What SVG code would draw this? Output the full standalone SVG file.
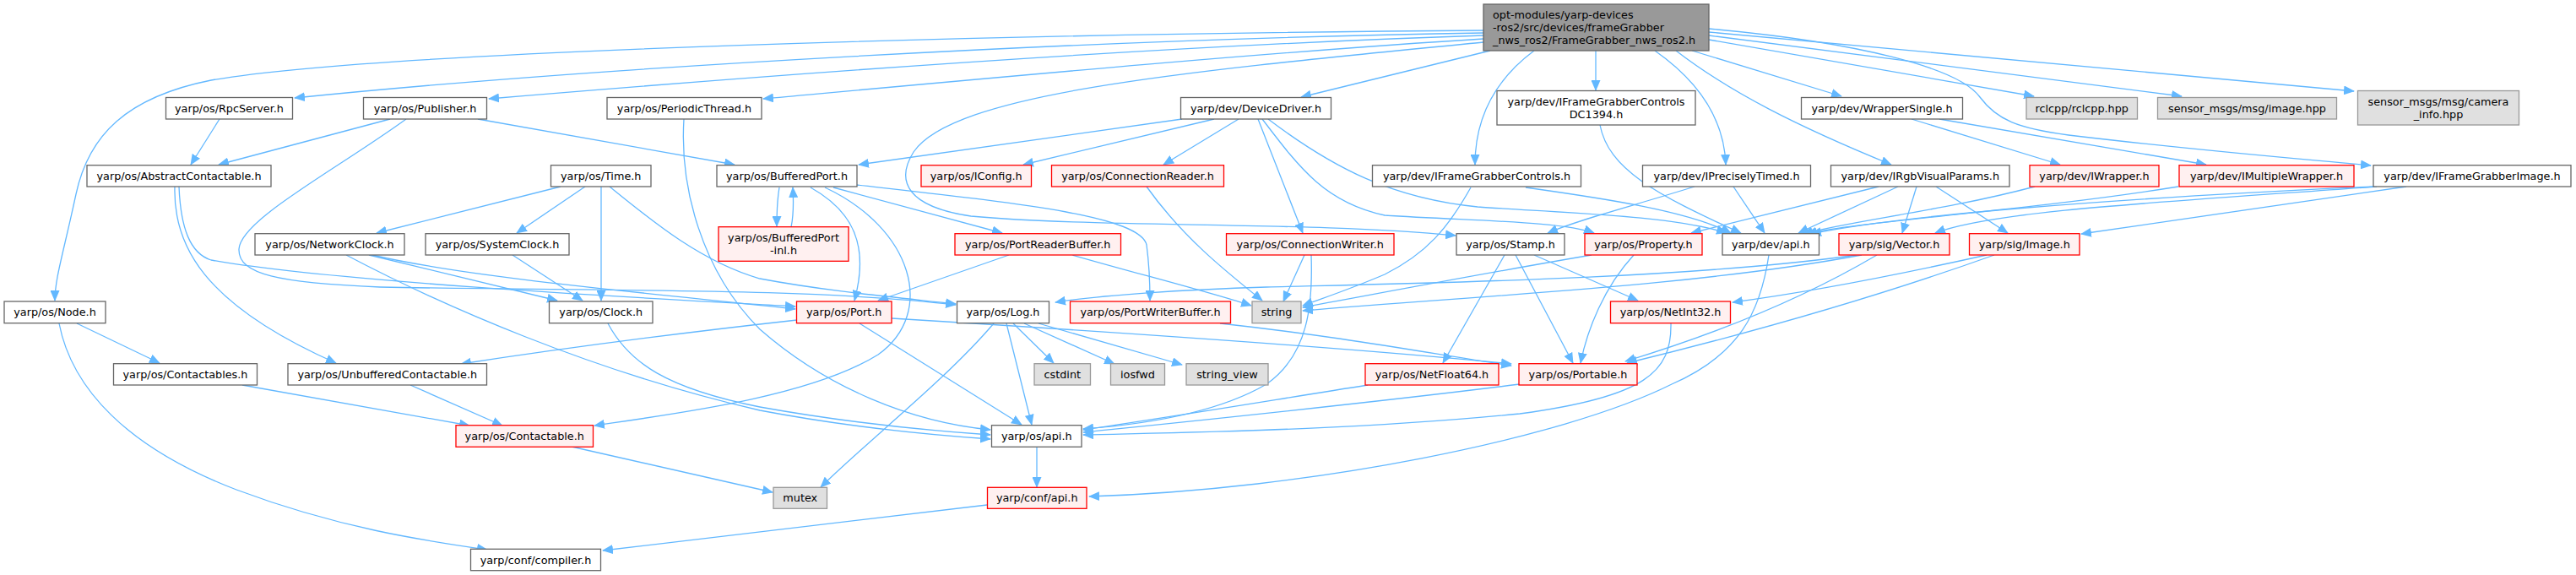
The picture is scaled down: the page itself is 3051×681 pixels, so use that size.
<svg xmlns="http://www.w3.org/2000/svg" width="3051" height="681" viewBox="0 0 3051 681">
<style>
text{font-family:"DejaVu Sans","Liberation Sans",sans-serif;font-size:12.8px;fill:#000;text-anchor:middle}
.n rect{fill:#fff;stroke:#666;stroke-width:1.3}
.r rect{fill:#FFF0F0;stroke:#f00;stroke-width:1.3}
.g rect{fill:#E0E0E0;stroke:#999;stroke-width:1.3}
.m rect{fill:#999;stroke:#666;stroke-width:1.3}
.m text{text-anchor:start}
#edges path{fill:none;stroke:#63B8FF;stroke-width:1.3;marker-end:url(#a)}
</style>
<defs>
<marker id="a" markerWidth="13" markerHeight="11" refX="12" refY="5.5" orient="auto" markerUnits="userSpaceOnUse"><path d="M0,0 L13,5.5 L0,11 z" fill="#63B8FF" stroke="none"/></marker>
</defs>
<rect width="3051" height="681" fill="#fff"/>
<g id="edges">
<path d="M1757,36 C1200,40 450,60 250,95 C150,115 105,160 90,230 C75,300 65,330 65,356"/>
<path d="M1757,39 C1300,46 700,80 349,116"/>
<path d="M1757,42 C1350,55 900,90 579,117"/>
<path d="M1757,46 C1500,62 1200,90 904,117"/>
<path d="M1757,50 C1400,85 1130,110 1082,180 C1060,215 1075,245 1150,256 C1300,270 1550,262 1724,279"/>
<path d="M1765,60 L1541,115"/>
<path d="M1817,60 C1770,95 1747,140 1747,195"/>
<path d="M1890,60 L1890,107"/>
<path d="M1960,60 C2010,95 2042,140 2044,195"/>
<path d="M1985,60 C2050,110 2130,150 2240,195"/>
<path d="M2004,60 L2181,114"/>
<path d="M2024,47 L2409,114"/>
<path d="M2024,42 L2584,114"/>
<path d="M2024,38 L2788,108"/>
<path d="M2024,34 C2200,50 2320,80 2345,115 C2365,142 2390,152 2450,160 C2600,178 2700,186 2808,196"/>
<path d="M260,141 L226,195"/>
<path d="M462,141 L259,195"/>
<path d="M566,141 L870,195"/>
<path d="M481,141 C400,200 285,260 283,295 C282,325 330,335 450,340 C700,345 950,340 1132,361"/>
<path d="M810,141 C805,220 830,320 900,390 C980,460 1080,500 1173,509"/>
<path d="M664,221 L446,276"/>
<path d="M693,221 L612,276"/>
<path d="M712,221 L712,356"/>
<path d="M722,221 C770,260 830,310 900,330 C980,345 1060,352 1132,360"/>
<path d="M207,221 C205,290 240,360 398,430"/>
<path d="M212,221 C214,270 225,300 250,308 C400,335 800,355 942,363"/>
<path d="M923,222 C920,240 920,255 920,268"/>
<path d="M937,269 C940,255 940,240 939,222"/>
<path d="M960,222 C1010,250 1030,290 1012,356"/>
<path d="M977,222 C1080,270 1110,370 1040,420 C960,470 800,490 704,504"/>
<path d="M987,222 L1187,276"/>
<path d="M1015,219 C1200,240 1350,255 1358,290 C1362,320 1362,340 1362,356"/>
<path d="M1400,141 L1017,195"/>
<path d="M1438,141 L1212,195"/>
<path d="M1467,141 L1378,195"/>
<path d="M1490,141 L1543,276"/>
<path d="M1495,141 C1540,200 1570,240 1640,255 C1750,262 1850,262 1888,276"/>
<path d="M1502,141 C1580,200 1650,235 1750,245 C1850,252 1980,255 2045,276"/>
<path d="M1742,222 C1715,270 1690,300 1640,325 C1600,342 1570,352 1543,362"/>
<path d="M1807,222 C1900,235 2000,250 2050,276"/>
<path d="M1895,148 C1905,200 1960,230 2062,276"/>
<path d="M2007,221 C1930,245 1870,260 1833,276"/>
<path d="M2053,221 L2090,276"/>
<path d="M2225,221 L2003,276"/>
<path d="M2248,221 L2130,276"/>
<path d="M2270,221 L2253,276"/>
<path d="M2293,221 L2378,276"/>
<path d="M2410,221 C2300,250 2200,260 2135,277"/>
<path d="M2580,221 C2400,250 2200,262 2140,277"/>
<path d="M2811,221 C2500,235 2250,255 2145,277"/>
<path d="M2815,221 C2550,240 2360,250 2292,276"/>
<path d="M2850,221 L2465,277"/>
<path d="M2264,141 L2440,195"/>
<path d="M2297,141 L2613,195"/>
<path d="M1782,302 L1709,430"/>
<path d="M1795,302 L1863,430"/>
<path d="M1817,302 L1940,356"/>
<path d="M1885,302 C1750,325 1620,350 1543,364"/>
<path d="M1935,302 C1900,340 1880,390 1872,430"/>
<path d="M2199,302 C2000,330 1700,335 1500,340 C1400,343 1300,350 1250,358"/>
<path d="M2205,302 C2000,340 1750,350 1543,368"/>
<path d="M2223,302 C2150,345 2050,390 1925,428"/>
<path d="M2353,302 C2250,325 2150,345 2052,358"/>
<path d="M2362,302 C2200,360 2050,400 1927,430"/>
<path d="M1979,383 C1980,440 1950,470 1800,490 C1600,510 1400,512 1283,515"/>
<path d="M1620,456 C1500,475 1380,495 1283,509"/>
<path d="M1800,455 C1600,480 1400,500 1283,512"/>
<path d="M1553,302 C1555,360 1550,420 1500,455 C1440,490 1350,503 1283,508"/>
<path d="M1545,302 L1520,357"/>
<path d="M1358,221 C1400,280 1450,320 1495,356"/>
<path d="M1270,302 C1350,325 1430,345 1482,362"/>
<path d="M1195,302 L1040,356"/>
<path d="M1445,383 C1600,400 1700,420 1790,433"/>
<path d="M1056,377 C1300,392 1600,412 1790,431"/>
<path d="M944,379 C800,395 650,415 546,431"/>
<path d="M1018,383 L1210,503"/>
<path d="M1200,383 L1248,430"/>
<path d="M1213,383 L1320,431"/>
<path d="M1230,383 L1400,432"/>
<path d="M1192,383 L1222,503"/>
<path d="M1177,383 C1120,450 1030,520 972,577"/>
<path d="M720,383 C745,430 790,460 900,482 C1000,500 1100,510 1173,515"/>
<path d="M437,302 L660,356"/>
<path d="M410,302 C520,360 700,440 900,486 C1000,505 1100,515 1173,520"/>
<path d="M607,302 L690,356"/>
<path d="M441,302 C560,330 800,350 942,366"/>
<path d="M91,383 L189,430"/>
<path d="M70,383 C85,460 150,530 280,580 C400,625 500,640 577,651"/>
<path d="M287,456 L556,504"/>
<path d="M486,456 L595,504"/>
<path d="M677,529 L915,583"/>
<path d="M1228,529 L1228,577"/>
<path d="M1169,598 L714,652"/>
<path d="M2095,302 C2085,370 2060,420 1980,455 C1850,520 1550,580 1290,588"/>
</g>
<g id="n1" class="m"><rect x="1757" y="5" width="267" height="55"/><text x="1768" y="22">opt-modules/yarp-devices</text><text x="1768" y="37">-ros2/src/devices/frameGrabber</text><text x="1768" y="52">_nws_ros2/FrameGrabber_nws_ros2.h</text></g>
<g id="n2" class="n"><rect x="196.5" y="115.5" width="150" height="25.5"/><text x="271.5" y="132.7">yarp/os/RpcServer.h</text></g>
<g id="n3" class="n"><rect x="430.5" y="115.5" width="146" height="25.5"/><text x="503.5" y="132.7">yarp/os/Publisher.h</text></g>
<g id="n4" class="n"><rect x="719" y="115.5" width="183" height="25.5"/><text x="810.5" y="132.7">yarp/os/PeriodicThread.h</text></g>
<g id="n5" class="n"><rect x="1398.5" y="115.5" width="178" height="25.5"/><text x="1487.5" y="132.7">yarp/dev/DeviceDriver.h</text></g>
<g id="n6" class="n"><rect x="1773" y="107.5" width="235" height="40.5"/><text x="1890.5" y="124.7">yarp/dev/IFrameGrabberControls</text><text x="1890.5" y="139.7">DC1394.h</text></g>
<g id="n7" class="n"><rect x="2133.5" y="115.5" width="191" height="25.5"/><text x="2229" y="132.7">yarp/dev/WrapperSingle.h</text></g>
<g id="n8" class="g"><rect x="2400" y="115.5" width="131.5" height="25.5"/><text x="2465.75" y="132.7">rclcpp/rclcpp.hpp</text></g>
<g id="n9" class="g"><rect x="2555.5" y="115.5" width="212" height="25.5"/><text x="2661.5" y="132.7">sensor_msgs/msg/image.hpp</text></g>
<g id="n10" class="g"><rect x="2792.5" y="107.5" width="191" height="40.5"/><text x="2888" y="124.7">sensor_msgs/msg/camera</text><text x="2888" y="139.7">_info.hpp</text></g>
<g id="n11" class="n"><rect x="103" y="195.7" width="218" height="25.3"/><text x="212" y="212.8">yarp/os/AbstractContactable.h</text></g>
<g id="n12" class="n"><rect x="652.5" y="195.7" width="118.5" height="25.3"/><text x="711.75" y="212.8">yarp/os/Time.h</text></g>
<g id="n13" class="n"><rect x="849" y="195.7" width="166" height="25.3"/><text x="932" y="212.8">yarp/os/BufferedPort.h</text></g>
<g id="n14" class="r"><rect x="1091" y="195.7" width="130.5" height="25.3"/><text x="1156.25" y="212.8">yarp/os/IConfig.h</text></g>
<g id="n15" class="r"><rect x="1245.5" y="195.7" width="204" height="25.3"/><text x="1347.5" y="212.8">yarp/os/ConnectionReader.h</text></g>
<g id="n16" class="n"><rect x="1625.5" y="195.7" width="247" height="25.3"/><text x="1749" y="212.8">yarp/dev/IFrameGrabberControls.h</text></g>
<g id="n17" class="n"><rect x="1945.5" y="195.7" width="199" height="25.3"/><text x="2045" y="212.8">yarp/dev/IPreciselyTimed.h</text></g>
<g id="n18" class="n"><rect x="2168.5" y="195.7" width="211.5" height="25.3"/><text x="2274.25" y="212.8">yarp/dev/IRgbVisualParams.h</text></g>
<g id="n19" class="r"><rect x="2404" y="195.7" width="153" height="25.3"/><text x="2480.5" y="212.8">yarp/dev/IWrapper.h</text></g>
<g id="n20" class="r"><rect x="2581" y="195.7" width="207" height="25.3"/><text x="2684.5" y="212.8">yarp/dev/IMultipleWrapper.h</text></g>
<g id="n21" class="n"><rect x="2811" y="195.7" width="234" height="25.3"/><text x="2928" y="212.8">yarp/dev/IFrameGrabberImage.h</text></g>
<g id="n22" class="n"><rect x="302" y="276.7" width="177" height="25.3"/><text x="390.5" y="293.8">yarp/os/NetworkClock.h</text></g>
<g id="n23" class="n"><rect x="504" y="276.7" width="170" height="25.3"/><text x="589" y="293.8">yarp/os/SystemClock.h</text></g>
<g id="n24" class="r"><rect x="851" y="268.7" width="154" height="40.6"/><text x="928" y="286">yarp/os/BufferedPort</text><text x="928" y="301">-inl.h</text></g>
<g id="n25" class="r"><rect x="1131" y="276.7" width="196.5" height="25.3"/><text x="1229.25" y="293.8">yarp/os/PortReaderBuffer.h</text></g>
<g id="n26" class="r"><rect x="1452.5" y="276.7" width="198.5" height="25.3"/><text x="1551.75" y="293.8">yarp/os/ConnectionWriter.h</text></g>
<g id="n27" class="n"><rect x="1725" y="276.7" width="128" height="25.3"/><text x="1789" y="293.8">yarp/os/Stamp.h</text></g>
<g id="n28" class="r"><rect x="1877" y="276.7" width="139" height="25.3"/><text x="1946.5" y="293.8">yarp/os/Property.h</text></g>
<g id="n29" class="n"><rect x="2040" y="276.7" width="114.5" height="25.3"/><text x="2097.25" y="293.8">yarp/dev/api.h</text></g>
<g id="n30" class="r"><rect x="2178" y="276.7" width="131" height="25.3"/><text x="2243.5" y="293.8">yarp/sig/Vector.h</text></g>
<g id="n31" class="r"><rect x="2332.5" y="276.7" width="130.5" height="25.3"/><text x="2397.75" y="293.8">yarp/sig/Image.h</text></g>
<g id="n32" class="n"><rect x="5" y="357" width="120" height="25.7"/><text x="65" y="374.3">yarp/os/Node.h</text></g>
<g id="n33" class="n"><rect x="650.5" y="357" width="122.5" height="25.7"/><text x="711.75" y="374.3">yarp/os/Clock.h</text></g>
<g id="n34" class="r"><rect x="943.5" y="357" width="112.5" height="25.7"/><text x="999.75" y="374.3">yarp/os/Port.h</text></g>
<g id="n35" class="n"><rect x="1133.5" y="357" width="109" height="25.7"/><text x="1188" y="374.3">yarp/os/Log.h</text></g>
<g id="n36" class="r"><rect x="1267.5" y="357" width="190" height="25.7"/><text x="1362.5" y="374.3">yarp/os/PortWriterBuffer.h</text></g>
<g id="n37" class="g"><rect x="1483" y="357" width="58" height="25.7"/><text x="1512" y="374.3">string</text></g>
<g id="n38" class="r"><rect x="1907.5" y="357" width="142" height="25.7"/><text x="1978.5" y="374.3">yarp/os/NetInt32.h</text></g>
<g id="n39" class="n"><rect x="134.5" y="430.7" width="170" height="25.3"/><text x="219.5" y="447.8">yarp/os/Contactables.h</text></g>
<g id="n40" class="n"><rect x="341" y="430.7" width="235.5" height="25.3"/><text x="458.75" y="447.8">yarp/os/UnbufferedContactable.h</text></g>
<g id="n41" class="g"><rect x="1225" y="430.7" width="66.5" height="25.3"/><text x="1258.25" y="447.8">cstdint</text></g>
<g id="n42" class="g"><rect x="1315.5" y="430.7" width="64" height="25.3"/><text x="1347.5" y="447.8">iosfwd</text></g>
<g id="n43" class="g"><rect x="1405" y="430.7" width="97" height="25.3"/><text x="1453.5" y="447.8">string_view</text></g>
<g id="n44" class="r"><rect x="1617" y="430.7" width="158" height="25.3"/><text x="1696" y="447.8">yarp/os/NetFloat64.h</text></g>
<g id="n45" class="r"><rect x="1799" y="430.7" width="140" height="25.3"/><text x="1869" y="447.8">yarp/os/Portable.h</text></g>
<g id="n46" class="r"><rect x="540" y="503.7" width="162.5" height="25.6"/><text x="621.25" y="521">yarp/os/Contactable.h</text></g>
<g id="n47" class="n"><rect x="1174.5" y="503.7" width="106.5" height="25.6"/><text x="1227.75" y="521">yarp/os/api.h</text></g>
<g id="n48" class="g"><rect x="916" y="577.3" width="63.5" height="25"/><text x="947.75" y="594.3">mutex</text></g>
<g id="n49" class="r"><rect x="1169.5" y="577.3" width="117.5" height="25"/><text x="1228.25" y="594.3">yarp/conf/api.h</text></g>
<g id="n50" class="n"><rect x="557.5" y="650.3" width="154" height="25.4"/><text x="634.5" y="667.5">yarp/conf/compiler.h</text></g>
</svg>
